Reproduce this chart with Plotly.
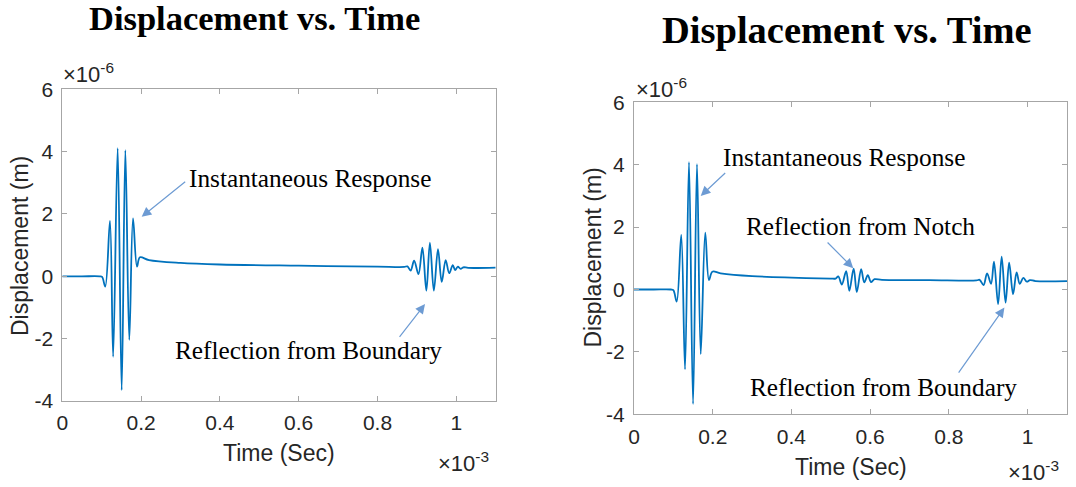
import plotly.graph_objects as go

# ---- data (time in ms = x10^-3 s, displacement in um = x10^-6 m) ----
t_left = [0, 0.05, 0.095, 0.101, 0.109, 0.121, 0.129, 0.1405, 0.1507, 0.160, 0.170, 0.1795, 0.1896, 0.197,
          0.22, 0.30, 0.40, 0.60, 0.80, 0.868, 0.876, 0.884, 0.893, 0.904, 0.914, 0.924, 0.933,
          0.943, 0.9535, 0.963, 0.973, 0.982, 0.991, 0.997, 1.004, 1.011, 1.018, 1.03, 1.10]
u_left = [0, 0, 0, -0.02, -0.33, 1.78, -2.58, 4.11, -3.65, 4.05, -2.04, 1.86, 0.31, 0.61,
          0.52, 0.43, 0.38, 0.34, 0.31, 0.30, 0.32, 0.18, 0.50, 0.07, 0.92, -0.46, 1.08,
          -0.46, 0.87, -0.18, 0.52, 0.10, 0.36, 0.20, 0.31, 0.24, 0.29, 0.27, 0.28]

t_right = [0, 0.05, 0.094, 0.100, 0.1085, 0.120, 0.1296, 0.1397, 0.150, 0.160, 0.1695, 0.181, 0.1905, 0.199,
           0.22, 0.30, 0.40, 0.50, 0.512, 0.519, 0.528, 0.539, 0.547, 0.558, 0.566, 0.577,
           0.585, 0.594, 0.602, 0.611, 0.63, 0.75, 0.87, 0.878, 0.888, 0.897, 0.907, 0.9145,
           0.925, 0.934, 0.944, 0.953, 0.963, 0.972, 0.980, 0.989, 0.998, 1.006, 1.02, 1.10]
u_right = [0, 0, 0, -0.02, -0.39, 1.75, -2.56, 4.08, -3.67, 4.02, -2.07, 1.82, 0.30, 0.57,
           0.52, 0.43, 0.38, 0.35, 0.35, 0.42, 0.16, 0.59, -0.04, 0.67, -0.08, 0.65,
           0.23, 0.46, 0.24, 0.33, 0.31, 0.30, 0.29, 0.31, 0.14, 0.52, 0.18, 0.89,
           -0.47, 1.05, -0.42, 0.86, -0.15, 0.55, 0.18, 0.37, 0.25, 0.30, 0.27, 0.27]

x_ticks = [0, 0.2, 0.4, 0.6, 0.8, 1.0]
x_ticklabels = ["0", "0.2", "0.4", "0.6", "0.8", "1"]
y_ticks = [-4, -2, 0, 2, 4, 6]
y_ticklabels = ["-4", "-2", "0", "2", "4", "6"]

W, H = 1076, 487
LINE = "#0072BD"
AX = "#a6a6a6"
TXT = "#262626"
SANS = "Liberation Sans, Arial, sans-serif"
SERIF = "Liberation Serif, Times New Roman, serif"
ARROW = "#6d9bd3"

def px(x):
    return x / W

def py(y):
    return 1 - y / H

fig = go.Figure()
fig.add_trace(go.Scatter(x=t_left, y=u_left, mode="lines", xaxis="x", yaxis="y",
                         line=dict(color=LINE, width=1.8, shape="spline", smoothing=1.0),
                         showlegend=False, hoverinfo="skip"))
fig.add_trace(go.Scatter(x=t_right, y=u_right, mode="lines", xaxis="x2", yaxis="y2",
                         line=dict(color=LINE, width=1.8, shape="spline", smoothing=1.0),
                         showlegend=False, hoverinfo="skip"))

def xaxis(domain, anchor):
    return dict(domain=domain, anchor=anchor, range=[0, 1.1], tickvals=x_ticks,
                ticktext=x_ticklabels, ticks="inside", ticklen=5, tickcolor=AX,
                showline=True, linecolor=AX, linewidth=1, mirror="ticks",
                showgrid=False, zeroline=False, ticklabelstandoff=3, automargin=False,
                tickfont=dict(family=SANS, size=21, color=TXT))

def yaxis(domain, anchor):
    return dict(domain=domain, anchor=anchor, range=[-4, 6], tickvals=y_ticks,
                ticktext=y_ticklabels, ticks="inside", ticklen=5, tickcolor=AX,
                showline=True, linecolor=AX, linewidth=1, mirror="ticks",
                showgrid=False, zeroline=False, ticklabelstandoff=4, automargin=False,
                tickfont=dict(family=SANS, size=21, color=TXT))

fig.update_layout(
    width=W, height=H, margin=dict(l=0, r=0, t=0, b=0, autoexpand=False),
    paper_bgcolor="white", plot_bgcolor="white",
    xaxis=xaxis([px(62.3), px(495.7)], "y"),
    yaxis=yaxis([py(401), py(89.3)], "x"),
    xaxis2=xaxis([px(634), px(1067)], "y2"),
    yaxis2=yaxis([py(414.3), py(102.3)], "x2"),
)

ann = []
# titles
ann.append(dict(text="<b>Displacement vs. Time</b>", x=px(254.5), y=py(18.5), xref="paper", yref="paper",
                xanchor="center", yanchor="middle", showarrow=False,
                font=dict(family=SERIF, size=34.5, color="black")))
ann.append(dict(text="<b>Displacement vs. Time</b>", x=px(847), y=py(30), xref="paper", yref="paper",
                xanchor="center", yanchor="middle", showarrow=False,
                font=dict(family=SERIF, size=38.5, color="black")))
# axis titles
for cx, cy in [(279, 453), (851, 467)]:
    ann.append(dict(text="Time (Sec)", x=px(cx), y=py(cy), xref="paper", yref="paper",
                    xanchor="center", yanchor="middle", showarrow=False,
                    font=dict(family=SANS, size=23, color=TXT)))
for cx, cy in [(20, 246), (592.5, 258)]:
    ann.append(dict(text="Displacement (m)", x=px(cx), y=py(cy), xref="paper", yref="paper",
                    xanchor="center", yanchor="middle", showarrow=False, textangle=-90,
                    font=dict(family=SANS, size=23, color=TXT)))
# exponent labels
for lx, cy in [(61, 73), (634, 88)]:
    ann.append(dict(text="\u00d710<sup>-6</sup>", x=px(lx), y=py(cy), xref="paper", yref="paper",
                    xanchor="left", yanchor="middle", showarrow=False,
                    font=dict(family=SANS, size=22, color=TXT)))
for lx, cy in [(436, 462), (1006, 471)]:
    ann.append(dict(text="\u00d710<sup>-3</sup>", x=px(lx), y=py(cy), xref="paper", yref="paper",
                    xanchor="left", yanchor="middle", showarrow=False,
                    font=dict(family=SANS, size=22, color=TXT)))

# text labels (data coords)
labels = [
    ("Instantaneous Response", 0.3165, 3.14, "x", "y"),
    ("Reflection from Boundary", 0.2817, -2.36, "x", "y"),
    ("Instantaneous Response", 0.2203, 4.24, "x2", "y2"),
    ("Reflection from Notch", 0.2795, 2.045, "x2", "y2"),
    ("Reflection from Boundary", 0.2889, -3.13, "x2", "y2"),
]
for t, x, y, xr, yr in labels:
    ann.append(dict(text=t, x=x, y=y, xref=xr, yref=yr, xanchor="left", yanchor="middle",
                    showarrow=False, font=dict(family=SERIF, size=25.3, color="black")))

# arrows (head x,y ; tail ax,ay) in data coords
arrows = [
    (0.2015, 1.91, 0.3157, 3.07, "x", "y"),
    (0.9206, -0.89, 0.853, -1.99, "x", "y"),
    (0.1695, 3.0, 0.2355, 3.78, "x2", "y2"),
    (0.557, 0.68, 0.488, 1.555, "x2", "y2"),
    (0.941, -0.58, 0.822, -2.71, "x2", "y2"),
]
for hx, hy, tx, ty, xr, yr in arrows:
    ann.append(dict(text="", x=hx, y=hy, ax=tx, ay=ty, xref=xr, yref=yr, axref=xr, ayref=yr,
                    showarrow=True, arrowhead=2, arrowsize=1.6, arrowwidth=1.2,
                    arrowcolor=ARROW, standoff=0))

fig.update_layout(annotations=ann)
fig.write_html("out.html", config={"displayModeBar": False},
               post_script="document.body.style.margin='0';document.body.style.padding='0';")
